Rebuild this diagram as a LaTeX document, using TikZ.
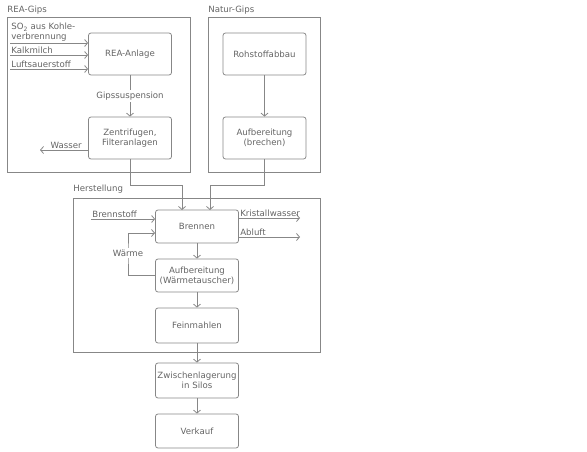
\documentclass[tikz,border=0pt]{standalone}
\usepackage{fontspec}
\setmainfont{DejaVu Sans}
\usetikzlibrary{arrows.meta}
\definecolor{linegray}{RGB}{135,135,135}
\definecolor{textgray}{RGB}{100,100,100}

\begin{document}
\begin{tikzpicture}[x=1pt,y=-1pt,
    font=\fontsize{8.6}{10}\selectfont, color=linegray, text=textgray,
    line width=0.8pt,
    arr/.style={-{Straight Barb[length=3pt,width=7pt]}},
    stepbox/.style={draw=linegray, rounded corners=2.5pt, align=center,
        minimum width=83pt, inner sep=1pt},
    frame/.style={draw=linegray},
    lbl/.style={inner sep=1pt},
    onl/.style={fill=white, inner sep=1.5pt}]
    \useasboundingbox (0,0) rectangle (587,452);

    % Gruppen
    \draw[frame] (7,17) rectangle (190,172);
    \node[lbl, anchor=base west] (reagips) at (6,13) {REA-Gips};
    \draw[frame] (208,17) rectangle (320,172);
    \node[lbl, anchor=base west] (naturgips) at (207,13) {Natur-Gips};
    \draw[frame] (73,198) rectangle (320,352);
    \node[lbl, anchor=base west] (herst) at (72,191) {Herstellung};

    % Schritte
    \node[stepbox, minimum height=42pt] (rea) at (130,54) {REA-Anlage};
    \node[stepbox, minimum height=42pt] (zent) at (130,138) {Zentrifugen,\\Filteranlagen};
    \node[stepbox, minimum height=42pt] (roh) at (264.5,54) {Rohstoffabbau};
    \node[stepbox, minimum height=42pt] (aufb) at (264.5,138) {Aufbereitung\\(brechen)};
    \node[stepbox, minimum height=33pt] (brennen) at (197,226.5) {Brennen};
    \node[stepbox, minimum height=33pt] (waerme) at (197,275.5) {Aufbereitung\\(Wärmetauscher)};
    \node[stepbox, minimum height=35pt] (fein) at (197,325.5) {Feinmahlen};
    \node[stepbox, minimum height=35pt] (silo) at (197,380.5) {Zwischenlagerung\\in Silos};
    \node[stepbox, minimum height=34pt] (verkauf) at (197,431) {Verkauf};

    % Zufuhr REA
    \coordinate (so2) at (10,43);
    \coordinate (kalk) at (10,55);
    \coordinate (luft) at (10,69);
    \draw[arr] (so2) -- (so2 -| rea.west);
    \draw[arr] (kalk) -- (kalk -| rea.west);
    \draw[arr] (luft) -- (luft -| rea.west);
    \node[lbl, anchor=south west, align=left] at (so2) {SO\textsubscript{2} aus Kohle-\\verbrennung};
    \node[lbl, anchor=south west] at (kalk) {Kalkmilch};
    \node[lbl, anchor=south west] at (luft) {Luftsauerstoff};

    \draw[arr] (rea) -- node[onl] {Gipssuspension} (zent);
    \coordinate (wasser) at (40,150);
    \draw[arr] (zent.west |- wasser) -- (wasser);
    \node[lbl, anchor=south east] at (83,150) {Wasser};

    \draw[arr] (roh) -- (aufb);

    % zur Herstellung
    \draw[arr] (zent.south) |- (182,185) -- (182,210);
    \draw[arr] (aufb.south) |- (210,185) -- (210,210);

    % Brennen
    \coordinate (brst) at (91,219);
    \draw[arr] (brst) -- (brst -| brennen.west);
    \node[lbl, anchor=south west] at (brst) {Brennstoff};
    \coordinate (krist) at (300,218);
    \coordinate (abl) at (300,237);
    \draw[arr] (brennen.east |- krist) -- node[lbl, pos=0, anchor=south west] {Kristallwasser} (krist);
    \draw[arr] (brennen.east |- abl) -- node[lbl, pos=0, anchor=south west] {Abluft} (abl);
    \draw[arr] (waerme.west) -| (128,253) node[onl] {Wärme} |- (155,233);

    \draw[arr] (brennen) -- (waerme);
    \draw[arr] (waerme) -- (fein);
    \draw[arr] (fein) -- (silo);
    \draw[arr] (silo) -- (verkauf);
\end{tikzpicture}
\end{document}
